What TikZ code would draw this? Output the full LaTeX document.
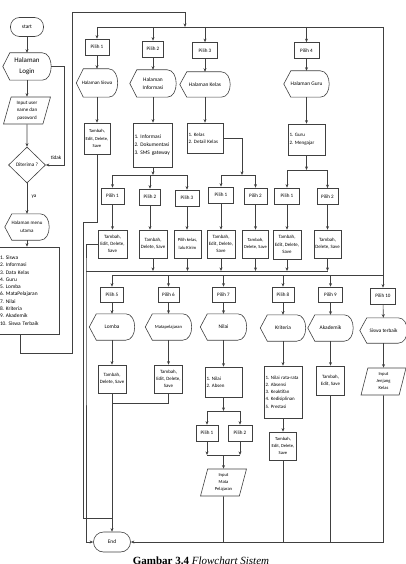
\documentclass[tikz,border=0pt]{standalone}
\usepackage{fontspec}
\setmainfont{Carlito}
\newfontfamily\captionfont{Liberation Serif}
\usetikzlibrary{positioning,arrows.meta,shapes.geometric,calc}

\begin{document}
\frenchspacing
\begin{tikzpicture}[
  x=1pt,y=-1pt,
  >={Stealth[length=3.6pt,width=3pt]},
  line/.style={draw=black!75,line width=0.6pt},
  arrow/.style={line,->},
  pilih/.style={rectangle,draw=black!75,line width=0.6pt,minimum width=23pt,minimum height=16pt,inner sep=0pt,font=\fontsize{5.1}{6}\selectfont},
  proses/.style={rectangle,draw=black!75,line width=0.6pt,minimum width=28pt,minimum height=28pt,inner sep=0.5pt,align=center,font=\fontsize{4.9}{7.2}\selectfont},
  daftar/.style={proses,align=left,inner xsep=1.5pt,font=\fontsize{5}{7.4}\selectfont},
  tampil/.style={minimum width=45pt,minimum height=26pt,inner sep=0pt,align=center,font=\fontsize{5.4}{7.5}\selectfont},
  terminal/.style={rectangle,draw=black!75,line width=0.6pt,rounded corners=9pt,minimum height=19pt,font=\fontsize{5.4}{6}\selectfont},
  masukan/.style={trapezium,trapezium left angle=68,trapezium right angle=112,trapezium stretches body,draw=black!75,line width=0.6pt,minimum width=46pt,minimum height=27pt,inner sep=0pt,align=center,font=\fontsize{4.6}{7}\selectfont},
  ket/.style={font=\fontsize{5.2}{6}\selectfont,inner sep=0.5pt},
]
\useasboundingbox (0,0) rectangle (406,564);

% === LOGIN ===
\node[terminal,minimum width=33pt] (mulai) at (27,27) {start};
\node[tampil,minimum width=48pt,minimum height=27pt,font=\fontsize{7}{11}\selectfont] (login) at (27,66.5) {Halaman\\Login};
\node[masukan,minimum width=47pt,font=\fontsize{5}{7.4}\selectfont] (input) at (27,110.5) {Input user\\name dan\\password};
\node[diamond,draw=black!75,line width=0.6pt,minimum width=37pt,minimum height=36pt,inner sep=0pt,font=\fontsize{5.2}{6}\selectfont] (cek) at (27,165) {Diterima ?};
\node[tampil,minimum width=44pt,font=\fontsize{5}{7.5}\selectfont] (menuutama) at (27,227) {Halaman menu\\utama};
\node[daftar,text width=54pt,minimum height=87pt,inner xsep=5pt,font=\fontsize{5.4}{7.3}\selectfont] (menu) at (27,290.5) {
1. Siswa\\2. Informasi\\3. Data Kelas\\4. Guru\\5. Lomba\\6. MataPelajaran\\7. Nilai\\8. Kriteria\\9. Akademik\\10. Siswa Terbaik};

\node[ket] (tidak) at (56,158) {tidak};
\node[ket] (ya) at (34,197) {ya};

% === MENU LEVEL 1 ===
\node[pilih,minimum width=24pt] (p1) at (97,47) {Pilih 1};
\node[tampil,minimum width=41pt,minimum height=28pt,font=\fontsize{5}{7.5}\selectfont] (hsiswa) at (97,83) {Halaman Siswa};
\node[proses,minimum width=26pt,minimum height=31pt,font=\fontsize{4.6}{7.2}\selectfont] (tsiswa) at (97,138.5) {Tambah,\\Edit, Delete,\\Save};

\node[pilih,minimum width=21pt] (p2) at (153,49) {Pilih 2};
\node[tampil,minimum width=46pt,minimum height=27pt,font=\fontsize{5.4}{8}\selectfont] (hinfo) at (153,83.5) {Halaman\\Informasi};
\node[daftar,text width=37pt,inner xsep=1pt,minimum height=44pt,font=\fontsize{5.4}{8.2}\selectfont] (linfo) at (153,145) {1. Informasi\\2. Dokumentasi\\3. SMS gateway};

\node[pilih,minimum width=25pt] (p3) at (205,50.5) {Pilih 3};
\node[tampil,minimum width=50pt,minimum height=25pt] (hkelas) at (205,84.5) {Halaman Kelas};
\node[daftar,text width=33pt,minimum height=30pt] (lkelas) at (205,138) {1. Kelas\\2. Detail Kelas};

\node[pilih,minimum width=25pt] (p4) at (306.5,50.5) {Pilih 4};
\node[tampil,minimum width=45pt] (hguru) at (306.5,84) {Halaman Guru};
\node[daftar,text width=34pt,minimum height=31pt] (lguru) at (306.5,139.5) {1. Guru\\2. Mengajar};

% === MENU LEVEL 2 ===
\node[pilih] (ip1) at (112.5,196) {Pilih 1};
\node[pilih,minimum width=21pt] (ip2) at (150,197) {Pilih 2};
\node[pilih,minimum width=24pt] (ip3) at (187,198) {Pilih 3};
\node[proses,minimum width=29pt] (it1) at (112.5,244) {Tambah,\\Edit, Delete,\\Save};
\node[proses] (it2) at (153,244) {Tambah,\\Delete, Save};
\node[proses,minimum width=27pt,font=\fontsize{4.6}{7.2}\selectfont] (it3) at (187.5,244) {Pilih kelas,\\lalu Kirim};

\node[pilih,minimum width=25pt] (kp1) at (221,195) {Pilih 1};
\node[pilih] (kp2) at (255.5,196) {Pilih 2};
\node[proses] (kt1) at (221,244) {Tambah,\\Edit, Delete,\\Save};
\node[proses,minimum width=26pt,font=\fontsize{4.6}{7.2}\selectfont] (kt2) at (255.5,244) {Tambah,\\Delete, Save};

\node[pilih,minimum width=25pt] (gp1) at (287,196) {Pilih 1};
\node[pilih,minimum width=21pt] (gp2) at (327.5,196.5) {Pilih 2};
\node[proses,minimum height=29pt] (gt1) at (287,244.5) {Tambah,\\Edit, Delete,\\Save};
\node[proses,minimum width=27pt] (gt2) at (327.5,244) {Tambah,\\Delete, Save};

% === MENU LEVEL 3 ===
\node[pilih,minimum height=15pt] (p5) at (112,294.5) {Pilih 5};
\node[tampil] (hlomba) at (112,327) {Lomba};
\node[proses] (tlomba) at (112,379) {Tambah,\\Delete, Save};

\node[pilih,minimum width=21pt,minimum height=15pt] (p6) at (168.5,294.5) {Pilih 6};
\node[tampil,minimum width=46pt,font=\fontsize{4.6}{7}\selectfont] (hmapel) at (168.5,327) {Matapelajaran};
\node[proses] (tmapel) at (168.5,379) {Tambah,\\Edit, Delete,\\Save};

\node[pilih,minimum height=15pt] (p7) at (223.5,294.5) {Pilih 7};
\node[tampil,minimum width=46pt] (hnilai) at (223.5,327) {Nilai};
\node[daftar,text width=34pt,minimum height=30pt] (lnilai) at (223.5,382) {1. Nilai\\2. Absen};
\node[pilih,minimum width=22pt] (np1) at (207,433) {Pilih 1};
\node[pilih,minimum width=24pt] (np2) at (240,433) {Pilih 2};
\node[masukan] (inmapel) at (223.5,482.5) {Input\\Mata\\Pelajaran};

\node[pilih,minimum width=22pt,minimum height=15pt] (p8) at (283,294.5) {Pilih 8};
\node[tampil] (hkrit) at (283,328) {Kriteria};
\node[daftar,text width=35pt,minimum height=52pt,font=\fontsize{4.9}{7.3}\selectfont] (lkrit) at (283,392) {1. Nilai rata-rata\\2. Absensi\\3. Keaktifan\\4. Kedisiplinan\\5. Prestasi};
\node[proses,minimum width=27pt,font=\fontsize{4.6}{7.2}\selectfont] (tkrit) at (283,446) {Tambah,\\Edit, Delete,\\Save};

\node[pilih,minimum width=24pt,minimum height=15pt] (p9) at (330.5,294.5) {Pilih 9};
\node[tampil] (hakad) at (330.5,328) {Akademik};
\node[proses,minimum height=29pt] (takad) at (330.5,380.5) {Tambah,\\Edit, Save};

\node[pilih,minimum width=25pt] (p10) at (383,296) {Pilih 10};
\node[tampil,minimum width=47pt,minimum height=25pt,font=\fontsize{5.2}{7.5}\selectfont] (hterbaik) at (383.5,330.5) {Siswa terbaik};
\node[masukan,minimum width=45pt] (injenjang) at (383.5,381.5) {Input\\Jenjang\\Kelas};

\node[terminal,minimum width=37pt,minimum height=20pt,rounded corners=10pt] (selesai) at (112,542) {End};

% display shapes
\foreach \n in {login,menuutama,hsiswa,hinfo,hkelas,hguru,hlomba,hmapel,hnilai,hkrit,hakad,hterbaik}
  \draw[line] (\n.west) -- ([xshift=7pt]\n.north west) -- ([xshift=-9pt]\n.north east)
    .. controls ([xshift=3pt]\n.north east) and ([xshift=3pt]\n.south east) .. ([xshift=-9pt]\n.south east)
    -- ([xshift=7pt]\n.south west) -- cycle;

% junctions
\coordinate (tdk) at (64,165);
\coordinate (kiri) at (72,353);
\coordinate (atas) at (185,12);
\coordinate (bus) at (185,27);
\coordinate (kanan) at (383,27);
\coordinate (bus2) at (112,275);
\coordinate (gabung) at (86,271);
\coordinate (s1) at (83,222);
\coordinate (s2) at (83,518);
\coordinate (cab1) at (153,175);
\coordinate (cab2) at (242,175);
\coordinate (cab3) at (306.5,170);
\coordinate (cab4) at (223.5,411);
\coordinate (gab4) at (223.5,455);
\coordinate (gab5) at (112,403);

% Login flow
\foreach \a/\b in {mulai/login,login/input,input/cek,menuutama/menu}
  \draw[arrow] (\a) -- (\b);
\draw[arrow] (cek) -- (menuutama);
\draw[arrow] (login.east) -| (tdk) -- (cek);
\draw[arrow] ([xshift=-7pt]menu.south) |- (kiri) |- (atas) -- (bus);

% Top bus
\draw[line] (p1.north |- bus) -- (kanan);
\foreach \p in {p1,p2,p3,p4}
  \draw[arrow] (\p.north |- bus) -- (\p);
\draw[arrow] (kanan) -- (p10);

% Columns
\foreach \a/\b in {p1/hsiswa,hsiswa/tsiswa,p2/hinfo,hinfo/linfo,p3/hkelas,hkelas/lkelas,p4/hguru,hguru/lguru,
  p5/hlomba,hlomba/tlomba,p6/hmapel,hmapel/tmapel,p7/hnilai,hnilai/lnilai,p8/hkrit,hkrit/lkrit,lkrit/tkrit,
  p9/hakad,hakad/takad,p10/hterbaik,hterbaik/injenjang}
  \draw[arrow] (\a) -- (\b);

% Splits
\draw[arrow] (linfo) -- (cab1);
\draw[line] (ip1.north |- cab1) -- (ip3.north |- cab1);
\draw[arrow] (lkelas) -| (cab2);
\draw[line] (kp1.north |- cab2) -- (kp2.north |- cab2);
\draw[arrow] (lguru) -- (cab3);
\draw[line] (gp1.north |- cab3) -- (gp2.north |- cab3);
\foreach \p/\c in {ip1/cab1,ip2/cab1,ip3/cab1,kp1/cab2,kp2/cab2,gp1/cab3,gp2/cab3}
  \draw[arrow] (\p.north |- \c) -- (\p);
\foreach \a/\b in {ip1/it1,ip2/it2,ip3/it3,kp1/kt1,kp2/kt2,gp1/gt1,gp2/gt2}
  \draw[arrow] (\a) -- (\a |- \b.north);

% Merge
\draw[line] (gabung) -- (gt2 |- gabung);
\foreach \t in {it2,it3,kt1,kt2,gt1,gt2}
  \draw[arrow] (\t) -- (\t |- gabung);
\draw[arrow] (it1) -| (gabung) |- (selesai);
\draw[line] (tsiswa) |- (s1) -- (s2) -- (s2 -| tlomba);

% Level 3 bus
\draw[line] (bus2) -- (bus2 -| kanan);
\foreach \p in {p5,p6,p7,p8,p9}
  \draw[arrow] (\p.north |- bus2) -- (\p);

% Nilai
\draw[arrow] (lnilai) -- (cab4);
\draw[line] (np1.north |- cab4) -- (np2.north |- cab4);
\foreach \p in {np1,np2} {
  \draw[arrow] (\p.north |- cab4) -- (\p);
  \draw[arrow] (\p) -- (\p |- gab4);
}
\draw[line] (np1 |- gab4) -- (np2 |- gab4);
\draw[arrow] (gab4) -- (inmapel);

% To End
\draw[line] (tmapel) |- (gab5);
\draw[arrow] (tlomba) -- (selesai);
\foreach \t in {inmapel,tkrit,takad,injenjang}
  \draw[line] (\t) -- (\t |- selesai);
\draw[arrow] (injenjang |- selesai) -- (selesai);

% Caption
\node[font=\captionfont\fontsize{11}{13}\selectfont,anchor=north,inner sep=0pt] (judul) at (201,557) {\textbf{Gambar 3.4} \textit{Flowchart Sistem}};

\end{tikzpicture}
\end{document}
